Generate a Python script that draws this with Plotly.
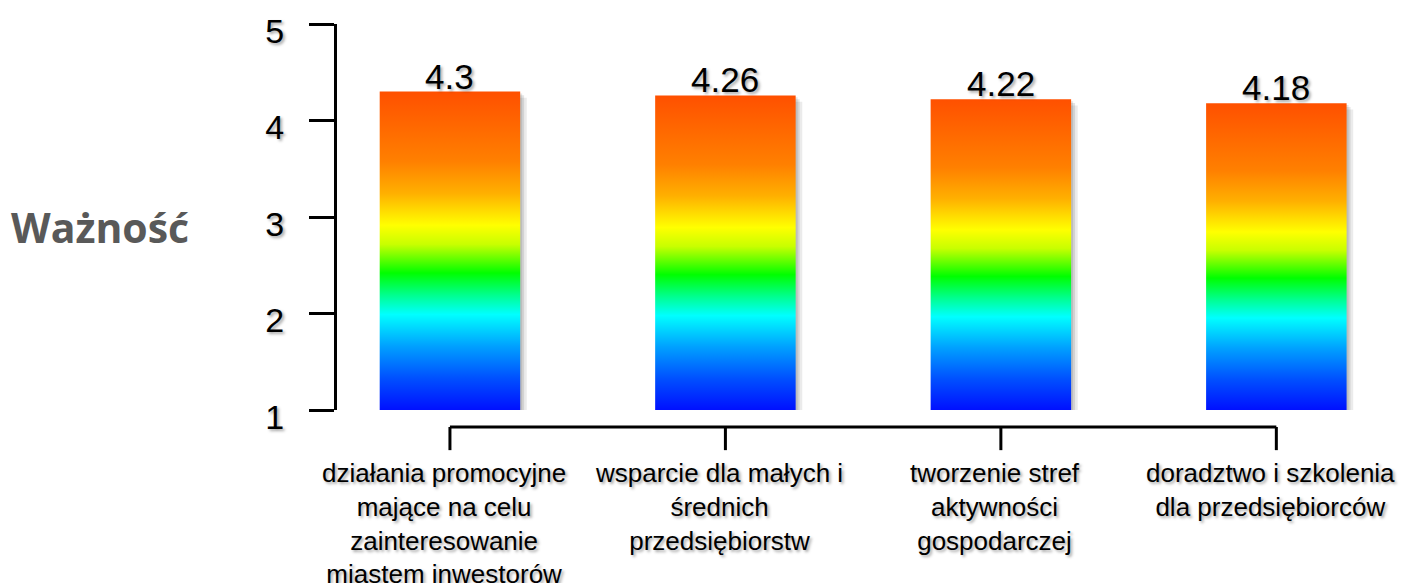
import plotly.graph_objects as go

# dane
categories = [
    "działania promocyjne<br>mające na celu<br>zainteresowanie<br>miastem inwestorów",
    "wsparcie dla małych i<br>średnich<br>przedsiębiorstw",
    "tworzenie stref<br>aktywności<br>gospodarczej",
    "doradztwo i szkolenia<br>dla przedsiębiorców",
]
values = [4.3, 4.26, 4.22, 4.18]
value_labels = ["4.3", "4.26", "4.22", "4.18"]
y_ticks = [1, 2, 3, 4, 5]
y_title = "Ważność"

base = 1
half = 0.255
txt_shadow = "2px 2px 3px rgba(0,0,0,0.35)"
font_sans = "Arial, Liberation Sans, sans-serif"

# tęcza od dołu (niebieski) do góry (pomarańczowo-czerwony)
rainbow = [
    [0.0, "#0010ff"], [0.10, "#0050ff"], [0.20, "#00a0ff"], [0.30, "#00ffff"],
    [0.36, "#00ff90"], [0.43, "#00ff00"], [0.52, "#c8ff00"], [0.58, "#ffff00"],
    [0.68, "#ffb000"], [0.78, "#ff8000"], [1.0, "#ff5000"],
]

fig = go.Figure()

for i, v in enumerate(values):
    xs = [i - half, i + half, i + half, i - half, i - half]
    ys = [base, base, v, v, base]
    # cień słupka
    for k, a in [(1.0, 0.08), (0.6, 0.10), (0.3, 0.10)]:
        fig.add_trace(go.Scatter(
            x=[x + 0.024 * k for x in xs], y=[y - 0.065 * k for y in ys],
            fill="toself", fillcolor=f"rgba(0,0,0,{a})", mode="none",
            hoverinfo="skip", showlegend=False))
    fig.add_trace(go.Scatter(
        x=xs, y=ys, fill="toself", mode="none",
        fillgradient=dict(type="vertical", colorscale=rainbow),
        hoverinfo="skip", showlegend=False))
    fig.add_annotation(x=i, y=v, text=value_labels[i], showarrow=False,
                       yanchor="bottom", yshift=-6,
                       font=dict(family=font_sans, size=35, color="black", shadow=txt_shadow))
    fig.add_annotation(x=i, y=-0.118, yref="paper", text=categories[i], showarrow=False,
                       yanchor="top", xshift=-6,
                       font=dict(family=font_sans, size=26, color="black", shadow=txt_shadow))

# klamra osi X
n = len(values)
fig.add_shape(type="line", xref="x", yref="paper", x0=0, x1=n - 1, y0=-0.044, y1=-0.044,
              line=dict(color="black", width=3))
for i in range(n):
    fig.add_shape(type="line", xref="x", yref="paper", x0=i, x1=i, y0=-0.044, y1=-0.104,
                  line=dict(color="black", width=3))

# tytuł osi Y jako napis
fig.add_annotation(x=(100 - 337) / 1033, y=(410 - 227) / 386, xref="paper", yref="paper",
                   text="<b>" + y_title + "</b>", showarrow=False,
                   xanchor="center", yanchor="middle",
                   font=dict(family="Open Sans, sans-serif", size=41, color="#595959"))

fig.update_layout(
    width=1407, height=583,
    margin=dict(l=337, r=37, t=24, b=173, autoexpand=False),
    paper_bgcolor="white", plot_bgcolor="white",
    showlegend=False,
    xaxis=dict(range=[-0.41, 3.34], visible=False, automargin=False),
    yaxis=dict(range=[1, 5], tickvals=y_ticks, showgrid=False, zeroline=False,
               automargin=False,
               showline=True, linecolor="black", linewidth=3,
               ticks="outside", ticklen=25, tickwidth=3, tickcolor="black",
               ticklabelstandoff=18, ticklabelshift=7,
               tickfont=dict(family=font_sans, size=34, color="black", shadow=txt_shadow)),
)

fig.write_html("out.html", config={"displayModeBar": False},
               post_script="document.body.style.margin='0';")
